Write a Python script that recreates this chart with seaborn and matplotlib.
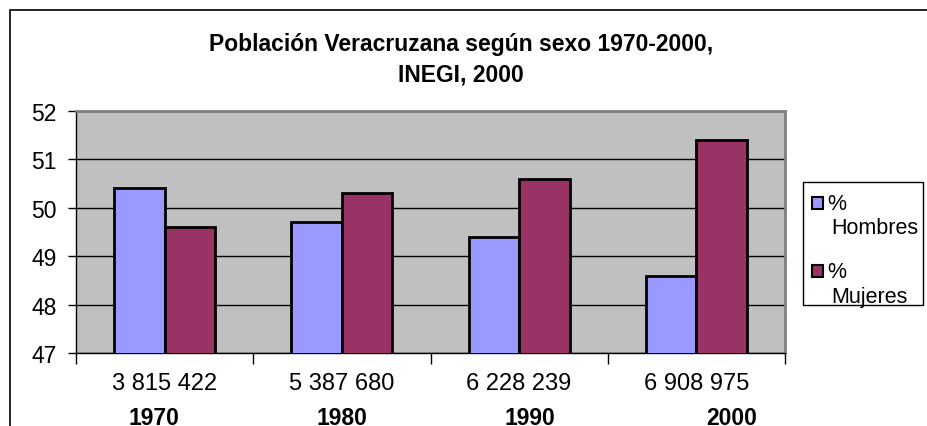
import pandas as pd
import matplotlib.pyplot as plt
import matplotlib.transforms as mtransforms
from matplotlib.patches import Rectangle
import seaborn as sns

# Data
years = ['1970', '1980', '1990', '2000']
poblacion = ['3 815 422', '5 387 680', '6 228 239', '6 908 975']
hombres = [50.4, 49.7, 49.4, 48.6]
mujeres = [49.6, 50.3, 50.6, 51.4]
series = ['Hombres', 'Mujeres']
colors = ['#9999FF', '#993366']

df = pd.DataFrame({
    'cat': poblacion * 2,
    'serie': [series[0]] * 4 + [series[1]] * 4,
    'valor': hombres + mujeres,
})

sns.set_style('white')
plt.rcParams['font.family'] = ['Liberation Sans', 'DejaVu Sans']
plt.rcParams['text.color'] = 'black'
plt.rcParams['xtick.color'] = 'black'
plt.rcParams['ytick.color'] = 'black'

fig = plt.figure(figsize=(9.27, 4.27), dpi=100)
ax = fig.add_axes([76 / 927, 1 - 354 / 427, (785 - 76) / 927, (354 - 112) / 427])

sns.barplot(data=df, x='cat', y='valor', hue='serie', palette=colors,
            saturation=1, width=0.57, edgecolor='black', linewidth=2, ax=ax,
            legend=False, zorder=3)

ax.set_facecolor('#C0C0C0')
ax.set_ylim(47, 52)
ax.set_xlim(-0.5, 3.5)
ax.set_yticks([47, 48, 49, 50, 51, 52])
ax.yaxis.grid(True, color='black', linewidth=1)
ax.set_axisbelow(True)
ax.set_xlabel('')
ax.set_ylabel('')

for s in ['top', 'right']:
    ax.spines[s].set_color('#808080')
    ax.spines[s].set_linewidth(2)
for s in ['left', 'bottom']:
    ax.spines[s].set_color('black')
    ax.spines[s].set_linewidth(1)

ax.tick_params(axis='y', direction='out', length=6, width=1,
               labelsize=16.5, pad=8, left=True, labelcolor='black')
ax.set_xticks(range(4))
ax.set_xticklabels(poblacion)
ax.tick_params(axis='x', which='major', length=0, labelsize=17, pad=14,
               labelcolor='black')
ax.set_xticks([-0.5, 0.5, 1.5, 2.5, 3.5], minor=True)
ax.tick_params(axis='x', which='minor', direction='out', length=8, width=1,
               bottom=True)

# bold year labels under the population numbers
trans = mtransforms.blended_transform_factory(ax.transData, fig.transFigure)
year_shift = [-0.06, 0.0, 0.06, 0.2]
for i, y in enumerate(years):
    ax.text(i + year_shift[i], 1 - 419 / 427, y, transform=trans, ha='center',
            va='center', fontsize=16.5, fontweight='bold', clip_on=False)

fig.text(461 / 927, 1 - 60 / 427,
         'Población Veracruzana según sexo 1970-2000,\nINEGI, 2000',
         ha='center', va='center', fontsize=16.5, fontweight='bold',
         linespacing=1.4)

# legend box drawn by hand so the swatch sits beside the "%" line
fig.patches.append(Rectangle((803 / 927, 1 - 306 / 427), 120 / 927, 123 / 427,
                             transform=fig.transFigure, facecolor='white',
                             edgecolor='black', linewidth=1))
for i, (name, c) in enumerate(zip(series, colors)):
    top = 198 + i * 68
    fig.patches.append(Rectangle((812 / 927, 1 - (top + 12) / 427), 11 / 927, 12 / 427,
                                 transform=fig.transFigure, facecolor=c,
                                 edgecolor='black', linewidth=1.5))
    fig.text(827 / 927, 1 - (top + 7) / 427, '%', ha='left', va='center',
             fontsize=15.5)
    fig.text(831 / 927, 1 - (top + 31) / 427, name, ha='left', va='center',
             fontsize=15.5)

# outer chart border
fig.patches.append(Rectangle((10 / 927, -0.1), 1.2, 1 - 11 / 427 + 0.1,
                             transform=fig.transFigure, fill=False,
                             edgecolor='black', linewidth=1.2))

fig.savefig('out.png', dpi=100)
